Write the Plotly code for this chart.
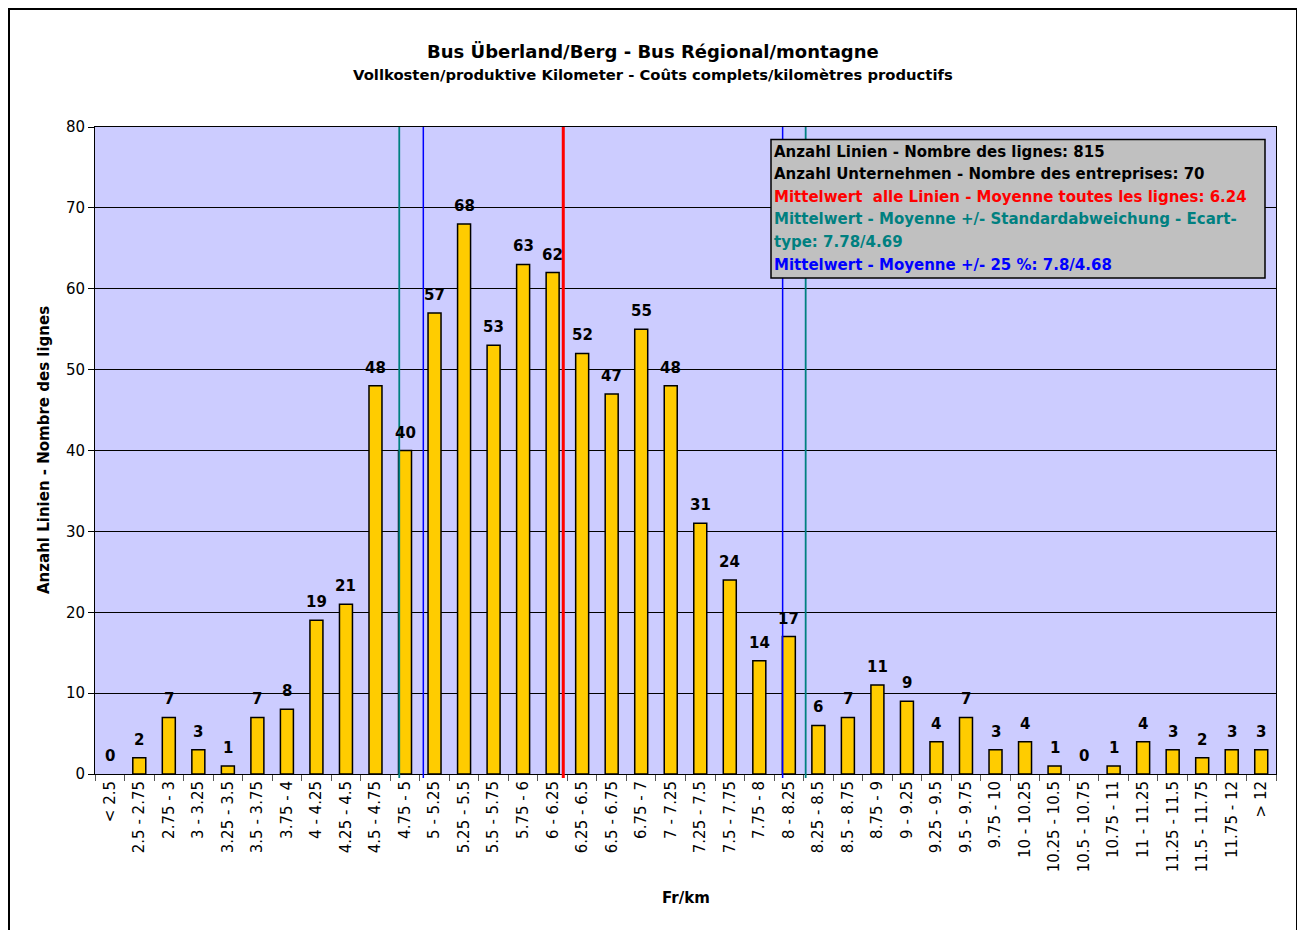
import plotly.graph_objects as go

categories = ["< 2.5", "2.5 - 2.75", "2.75 - 3", "3 - 3.25", "3.25 - 3.5", "3.5 - 3.75", "3.75 - 4",
              "4 - 4.25", "4.25 - 4.5", "4.5 - 4.75", "4.75 - 5", "5 - 5.25", "5.25 - 5.5", "5.5 - 5.75",
              "5.75 - 6", "6 - 6.25", "6.25 - 6.5", "6.5 - 6.75", "6.75 - 7", "7 - 7.25", "7.25 - 7.5",
              "7.5 - 7.75", "7.75 - 8", "8 - 8.25", "8.25 - 8.5", "8.5 - 8.75", "8.75 - 9", "9 - 9.25",
              "9.25 - 9.5", "9.5 - 9.75", "9.75 - 10", "10 - 10.25", "10.25 - 10.5", "10.5 - 10.75",
              "10.75 - 11", "11 - 11.25", "11.25 - 11.5", "11.5 - 11.75", "11.75 - 12", "> 12"]
counts = [0, 2, 7, 3, 1, 7, 8, 19, 21, 48, 40, 57, 68, 53, 63, 62, 52, 47, 55, 48, 31, 24, 14, 17,
          6, 7, 11, 9, 4, 7, 3, 4, 1, 0, 1, 4, 3, 2, 3, 3]

# reference lines (position on the category axis, as drawn in the chart)
ref_lines_pos = [15.36, 9.805, 23.57, 10.62, 22.79]
ref_lines_color = ["#FF0000", "#008080", "#008080", "#0000FF", "#0000FF"]
ref_lines_width = [3, 1.8, 1.8, 1.5, 1.5]

info_lines = ["Anzahl Linien - Nombre des lignes: 815",
              "Anzahl Unternehmen - Nombre des entreprises: 70",
              "Mittelwert  alle Linien - Moyenne toutes les lignes: 6.24",
              "Mittelwert - Moyenne +/- Standardabweichung - Ecart-",
              "type: 7.78/4.69",
              "Mittelwert - Moyenne +/- 25 %: 7.8/4.68"]
info_colors = ["#000000", "#000000", "#FF0000", "#008080", "#008080", "#0000FF"]

title = "Bus Überland/Berg - Bus Régional/montagne"
subtitle = "Vollkosten/produktive Kilometer - Coûts complets/kilomètres productifs"
x_title = "Fr/km"
y_title = "Anzahl Linien - Nombre des lignes"

FONT = "DejaVu Sans, Arial, sans-serif"
OFF = 8                      # page body margin
W, H = 1305 - OFF, 930 - OFF
# plot area in page pixels
L, R, T, B = 95, 1276, 127, 774


def px_x(p):
    return (p - L) / (R - L)


def px_y(p):
    return (B - p) / (B - T)


fig = go.Figure()
fig.add_trace(go.Bar(
    x=categories, y=counts,
    marker=dict(color="#FFCC00",
                line=dict(color="#000000", width=[1.5 if v > 0 else 0 for v in counts])),
    showlegend=False, hoverinfo="x+y",
))

annotations = []
for c, v in zip(categories, counts):
    annotations.append(dict(x=c, y=v, xref="x", yref="y", text=f"<b>{v}</b>", showarrow=False,
                            yanchor="bottom", yshift=7, font=dict(family=FONT, size=15, color="#000000")))

shapes = []
# outer frame
shapes.append(dict(type="rect", xref="paper", yref="paper",
                   x0=px_x(9), x1=px_x(1297), y0=px_y(945), y1=px_y(9),
                   line=dict(color="#000000", width=2), fillcolor="rgba(0,0,0,0)", layer="below"))
for pos, col, w in zip(ref_lines_pos, ref_lines_color, ref_lines_width):
    shapes.append(dict(type="line", xref="x", yref="paper", x0=pos, x1=pos, y0=px_y(778), y1=1,
                       line=dict(color=col, width=w), layer="above"))
# info box
shapes.append(dict(type="rect", xref="paper", yref="paper",
                   x0=px_x(771), x1=px_x(1265), y0=px_y(278), y1=px_y(139.5),
                   line=dict(color="#000000", width=1.5), fillcolor="#C0C0C0", layer="above"))
line_y = [151.5, 174, 196.7, 219.3, 242, 265]
for txt, col, yy in zip(info_lines, info_colors, line_y):
    annotations.append(dict(x=px_x(772), y=px_y(yy), xref="paper", yref="paper", text=f"<b>{txt}</b>",
                            showarrow=False, xanchor="left", yanchor="middle",
                            font=dict(family=FONT, size=15, color=col)))

annotations.append(dict(x=px_x(652.5), y=px_y(51), xref="paper", yref="paper", text=f"<b>{title}</b>",
                        showarrow=False, xanchor="center", yanchor="middle",
                        font=dict(family=FONT, size=18, color="#000000")))
annotations.append(dict(x=px_x(652.5), y=px_y(75), xref="paper", yref="paper", text=f"<b>{subtitle}</b>",
                        showarrow=False, xanchor="center", yanchor="middle",
                        font=dict(family=FONT, size=14.8, color="#000000")))
annotations.append(dict(x=px_x(685.5), y=px_y(898), xref="paper", yref="paper", text=f"<b>{x_title}</b>",
                        showarrow=False, xanchor="center", yanchor="middle",
                        font=dict(family=FONT, size=15, color="#000000")))
annotations.append(dict(x=px_x(44), y=px_y(450), xref="paper", yref="paper", text=f"<b>{y_title}</b>",
                        showarrow=False, xanchor="center", yanchor="middle", textangle=-90,
                        font=dict(family=FONT, size=15, color="#000000")))

fig.update_layout(
    width=W, height=H,
    margin=dict(l=L - OFF, r=W - (R - OFF), t=T - OFF, b=H - (B - OFF), pad=0),
    paper_bgcolor="#FFFFFF", plot_bgcolor="#CCCCFF",
    font=dict(family=FONT, size=15, color="#000000"),
    bargap=0.56,
    shapes=shapes, annotations=annotations,
    xaxis=dict(type="category", tickangle=-90, tickson="boundaries", ticks="outside", ticklen=6,
               tickcolor="#555555", showgrid=False, showline=True, linecolor="#000000", linewidth=1,
               mirror=True, tickfont=dict(family=FONT, size=15, color="#000000"),
               range=[-0.5, 39.5]),
    yaxis=dict(range=[0, 80], dtick=10, ticks="outside", ticklen=6, tickcolor="#000000",
               showgrid=True, gridcolor="#000000", gridwidth=1, showline=True, linecolor="#000000",
               linewidth=1, mirror=True, zeroline=False,
               tickfont=dict(family=FONT, size=15, color="#000000")),
)

fig.write_html("out.html")
